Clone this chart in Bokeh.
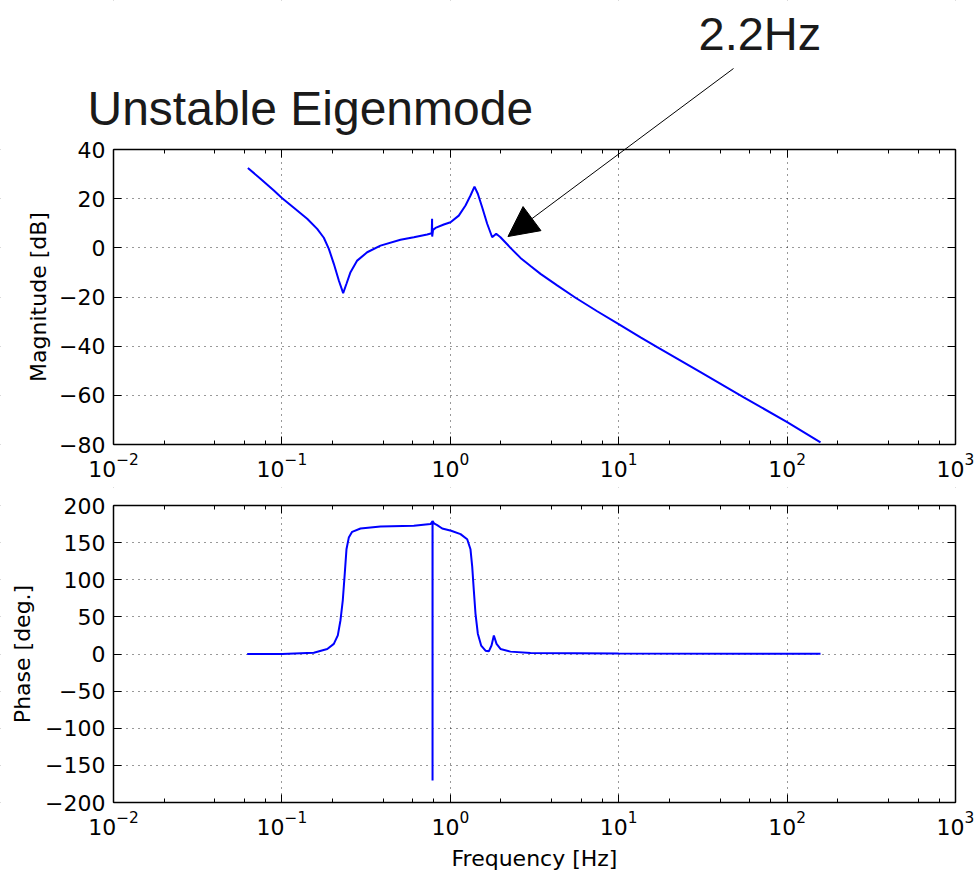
import math
from bokeh.plotting import figure
from bokeh.models import (Range1d, LogAxis, LinearAxis, FixedTicker, LogTicker, Grid,
                          CustomJSTickFormatter, Label, Arrow, NormalHead, BoxAnnotation)
from bokeh.layouts import column
from bokeh.embed import file_html
from bokeh.resources import INLINE

# ---------------- data ----------------
mag_freq = [0.0628, 0.0746, 0.0896, 0.1004, 0.1177, 0.1413, 0.162, 0.1774, 0.19, 0.2034,
            0.2178, 0.2311, 0.2418, 0.2555, 0.2799, 0.3209, 0.385, 0.506, 0.6074, 0.7291,
            0.776, 0.7795, 0.7805, 0.79, 0.817, 0.915, 1.003, 1.123, 1.231, 1.318,
            1.392, 1.457, 1.546, 1.656, 1.773, 1.873, 1.986, 2.277, 2.611, 2.995,
            3.433, 4.31, 5.54, 7.45, 10.11, 13.48, 16.93, 30.6, 55.3, 100.1,
            157.9]
mag_db = [32.5, 28.1, 23.3, 20.2, 16.3, 11.8, 7.7, 4.1, -0.4, -6.5,
          -13.3, -18.4, -14.6, -9.9, -5.2, -1.8, 0.9, 3.3, 4.3, 5.4,
          5.9, 11.8, 4.6, 7.3, 8.1, 9.5, 10.4, 13.1, 17.2, 21.3,
          24.9, 22.0, 16.5, 9.8, 4.3, 5.7, 4.3, 0.0, -4.1, -7.4,
          -10.6, -15.3, -20.3, -25.8, -31.2, -36.4, -40.4, -50.6, -60.8, -70.9,
          -79.1]

ph_freq = [0.0622, 0.1, 0.1547, 0.186, 0.2034, 0.2148, 0.2228, 0.23, 0.2363, 0.2418,
           0.2496, 0.2613, 0.2929, 0.385, 0.6074, 0.763, 0.778, 0.784, 0.7845, 0.785,
           0.80, 0.836, 0.895, 1.012, 1.15, 1.26, 1.318, 1.349, 1.379, 1.411,
           1.457, 1.525, 1.618, 1.693, 1.757, 1.814, 1.882, 1.986, 2.277, 2.995,
           10.0, 157.9]
ph_deg = [0.0, 0.0, 1.8, 6.8, 13.6, 25.0, 45.5, 72.7, 109.0, 141.0,
          156.8, 164.5, 169.0, 171.8, 172.7, 175.0, 177.5, 179.0, -170.4, 179.0,
          176.0, 173.6, 169.0, 166.0, 161.4, 154.5, 141.0, 118.0, 86.0, 54.5,
          27.3, 11.4, 4.5, 3.6, 11.4, 25.0, 13.6, 6.8, 3.2, 1.4,
          0.6, 0.4]

x_lim = (1e-2, 1e3)
mag_lim = (-80, 40)
ph_lim = (-200, 200)
mag_ticks = [-80, -60, -40, -20, 0, 20, 40]
ph_ticks = [-200, -150, -100, -50, 0, 50, 100, 150, 200]

title_text = "Unstable Eigenmode"
note_text = "2.2Hz"
note_freq, note_db = 2.2, 4.6       # point the arrow marks

# ---------------- layout (pixels) ----------------
FONT = "DejaVu Sans"
W = 979
FX0, FX1 = 113, 955          # plot box left/right
T1, B1 = 149, 444            # magnitude box top/bottom
H1 = 487                     # height of the magnitude figure
T2, B2 = 18, 315             # phase box (relative to its figure)
H2 = 385

PPD = (FX1 - FX0) / (math.log10(x_lim[1]) - math.log10(x_lim[0]))   # px per decade


def xr():
    lo = math.log10(x_lim[0]) - FX0 / PPD
    hi = math.log10(x_lim[1]) + (W - FX1) / PPD
    return Range1d(10 ** lo, 10 ** hi)


def yr(lim, top, bottom, height):
    ppu = (bottom - top) / (lim[1] - lim[0])
    return Range1d(lim[0] - (height - bottom) / ppu, lim[1] + top / ppu), ppu


def minus_fmt():
    return CustomJSTickFormatter(
        code="return tick < 0 ? '\\u2212' + Math.abs(tick) : String(tick);")


def empty_fmt():
    return CustomJSTickFormatter(code="return '';")


def style_axis(ax, minor=True):
    ax.major_tick_in = 8
    ax.major_tick_out = 0
    ax.minor_tick_in = 4
    ax.minor_tick_out = 0
    ax.axis_line_color = "black"
    ax.axis_line_width = 1.5
    ax.major_tick_line_color = "black"
    ax.minor_tick_line_color = "black" if minor else None
    ax.major_label_text_font = FONT
    ax.major_label_text_font_size = "22px"
    ax.major_label_text_color = "black"
    ax.major_label_standoff = 8
    ax.axis_label_text_font = FONT
    ax.axis_label_text_font_size = "22px"
    ax.axis_label_text_font_style = "normal"
    ax.axis_label_text_color = "black"


def make_fig(height, top, bottom, lim, yticks, ylabel, xlabel=None, lstand=12):
    y_range, ppu = yr(lim, top, bottom, height)
    p = figure(width=W, height=height, x_axis_type="log",
               x_range=xr(), y_range=y_range,
               x_axis_location=None, y_axis_location=None,
               output_backend="svg", toolbar_location=None, min_border=0)
    p.min_border_left = p.min_border_right = p.min_border_top = p.min_border_bottom = 0
    p.background_fill_color = "white"
    p.border_fill_color = "white"
    p.outline_line_color = None
    for g in list(p.center):
        g.visible = False

    # grid
    for dim, tk in ((0, LogTicker()), (1, FixedTicker(ticks=yticks))):
        g = Grid(dimension=dim, ticker=tk, grid_line_color="black",
                 grid_line_dash="1 5", grid_line_width=1, grid_line_alpha=0.8)
        p.add_layout(g)
    # white masks hide the grid outside the plot box
    for kw in (dict(bottom=lim[1]), dict(top=lim[0]),
               dict(right=x_lim[0]), dict(left=x_lim[1])):
        p.add_layout(BoxAnnotation(fill_color="white", fill_alpha=1, line_color=None,
                                   level="underlay", **kw))

    # axes placed on the box edges
    left = LinearAxis(ticker=FixedTicker(ticks=yticks), formatter=minus_fmt(),
                      fixed_location=x_lim[0], bounds=lim, axis_label=ylabel)
    style_axis(left, minor=False)
    left.axis_label_standoff = lstand
    p.add_layout(left, "left")

    right = LinearAxis(ticker=FixedTicker(ticks=yticks), formatter=empty_fmt(),
                       fixed_location=x_lim[1], bounds=lim)
    style_axis(right, minor=False)
    right.major_label_standoff = 0
    p.add_layout(right, "right")

    topax = LogAxis(ticker=LogTicker(), formatter=empty_fmt(),
                    fixed_location=lim[1], bounds=x_lim)
    style_axis(topax, minor=True)
    topax.major_label_standoff = 0
    p.add_layout(topax, "above")

    bot = LogAxis(ticker=LogTicker(), fixed_location=lim[0], bounds=x_lim)
    style_axis(bot, minor=True)
    if xlabel:
        bot.axis_label = xlabel
        bot.axis_label_standoff = 8
    p.add_layout(bot, "below")
    return p, ppu


# ---------------- magnitude panel (with the annotations) ----------------
p1, ppu1 = make_fig(H1, T1, B1, mag_lim, mag_ticks, "Magnitude [dB]", lstand=5)
p1.line(mag_freq, mag_db, line_color="#0000ff", line_width=2)


def px_to_data(px, py):
    return (10 ** (math.log10(x_lim[0]) + (px - FX0) / PPD),
            mag_lim[1] + (T1 - py) / ppu1)


BASE_FIX = 19   # px: alphabetic baseline correction
tx, ty = px_to_data(87, 127 - BASE_FIX)
p1.add_layout(Label(x=tx, y=ty, text=title_text, text_font="Liberation Sans",
                    text_font_size="48px", text_color="#1a1a1a",
                    text_baseline="alphabetic", text_align="left"))
nx, ny = px_to_data(698, 52 - BASE_FIX)
p1.add_layout(Label(x=nx, y=ny, text=note_text, text_font="Liberation Sans",
                    text_font_size="47px", text_color="#1a1a1a",
                    text_baseline="alphabetic", text_align="left"))
ax0, ay0 = px_to_data(733, 68)
p1.add_layout(Arrow(x_start=ax0, y_start=ay0, x_end=note_freq, y_end=note_db,
                    line_color="black", line_width=1,
                    end=NormalHead(size=30, fill_color="black", line_color="black")))

# ---------------- phase panel ----------------
p2, _ = make_fig(H2, T2, B2, ph_lim, ph_ticks, "Phase [deg.]",
                 xlabel="Frequency [Hz]", lstand=7)
p2.line(ph_freq, ph_deg, line_color="#0000ff", line_width=2)

layout = column(p1, p2)
open("out.html", "w").write(file_html(layout, INLINE))
